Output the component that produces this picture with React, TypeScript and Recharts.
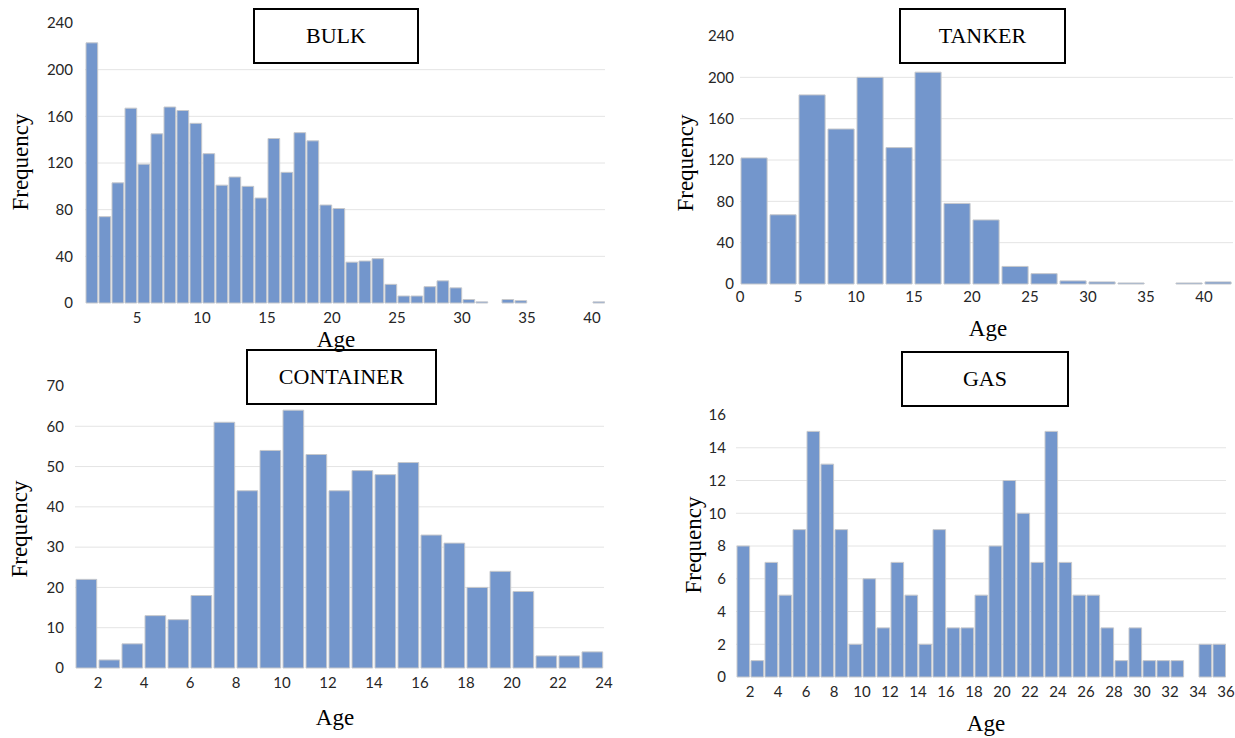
import React from 'react';
import { BarChart, Bar, XAxis, YAxis, CartesianGrid } from 'recharts';

// Bin starts (each bin is one age unit wide, tanker bins are 2.5 wide)
const bulkBins = [1, 2, 3, 4, 5, 6, 7, 8, 9, 10, 11, 12, 13, 14, 15, 16, 17, 18, 19, 20, 21, 22, 23, 24, 25, 26, 27, 28, 29, 30, 31, 32, 33, 34, 35, 36, 37, 38, 39, 40];
const bulkCounts = [223, 74, 103, 167, 119, 145, 168, 165, 154, 128, 101, 108, 100, 90, 141, 112, 146, 139, 84, 81, 35, 36, 38, 16, 6, 6, 14, 19, 13, 3, 1, 0, 3, 2, 0, 0, 0, 0, 0, 1];

const tankerBins = [0, 2.5, 5, 7.5, 10, 12.5, 15, 17.5, 20, 22.5, 25, 27.5, 30, 32.5, 35, 37.5, 40];
const tankerCounts = [122, 67, 183, 150, 200, 132, 205, 78, 62, 17, 10, 3, 2, 1, 0, 1, 2];

const containerBins = [1, 2, 3, 4, 5, 6, 7, 8, 9, 10, 11, 12, 13, 14, 15, 16, 17, 18, 19, 20, 21, 22, 23];
const containerCounts = [22, 2, 6, 13, 12, 18, 61, 44, 54, 64, 53, 44, 49, 48, 51, 33, 31, 20, 24, 19, 3, 3, 4];

const gasBins = [1, 2, 3, 4, 5, 6, 7, 8, 9, 10, 11, 12, 13, 14, 15, 16, 17, 18, 19, 20, 21, 22, 23, 24, 25, 26, 27, 28, 29, 30, 31, 32, 33, 34, 35];
const gasCounts = [8, 1, 7, 5, 9, 15, 13, 9, 2, 6, 3, 7, 5, 2, 9, 3, 3, 5, 8, 12, 10, 7, 15, 7, 5, 5, 3, 1, 3, 1, 1, 1, 0, 2, 2];

// tick labels
const bulkXTicks = [5, 10, 15, 20, 25, 30, 35, 40];
const bulkYTicks = [0, 40, 80, 120, 160, 200, 240];
const tankerXTicks = [0, 5, 10, 15, 20, 25, 30, 35, 40];
const tankerYTicks = [0, 40, 80, 120, 160, 200, 240];
const containerXTicks = [2, 4, 6, 8, 10, 12, 14, 16, 18, 20, 22, 24];
const containerYTicks = [0, 10, 20, 30, 40, 50, 60, 70];
const gasXTicks = [2, 4, 6, 8, 10, 12, 14, 16, 18, 20, 22, 24, 26, 28, 30, 32, 34, 36];
const gasYTicks = [0, 2, 4, 6, 8, 10, 12, 14, 16];

const BAR_FILL = '#7396cc';
const BAR_STROKE = '#c6c8cc';
const TICK_FONT = { fontFamily: 'Lato, sans-serif', fontSize: 15, fill: '#262626' };
const SERIF = '"Liberation Serif", "Times New Roman", serif';

interface Plot { x1: number; x2: number; y1: number; y2: number }

interface HistProps {
  bins: number[];
  counts: number[];
  binWidth: number;
  xDomain: [number, number];
  xTicks: number[];
  yTicks: number[];
  plot: Plot;
  xTickGap: number;
  yTickGap: number;
}

const Histogram: React.FC<HistProps> = ({ bins, counts, binWidth, xDomain, xTicks, yTicks, plot, xTickGap, yTickGap }) => {
  // bars sit on the middle of their bin
  const data = bins.map((b, i) => ({ mid: b + binWidth / 2, count: counts[i] }));
  const yAxisW = 70;
  const top = 12;
  const bottom = 30;
  const right = 16; // room for the last x tick label
  const width = plot.x2 - plot.x1 + yAxisW + right;
  const height = plot.y2 - plot.y1 + top + bottom;
  const barPx = Math.round(((plot.x2 - plot.x1) / (xDomain[1] - xDomain[0])) * binWidth);
  // gridlines everywhere except the baseline and the top tick
  const gridValues = yTicks.slice(1, -1);

  return (
    <div style={{ position: 'absolute', left: plot.x1 - yAxisW, top: plot.y1 - top }}>
      <BarChart
        width={width}
        height={height}
        data={data}
        margin={{ top, right, left: 0, bottom: 0 }}
        barCategoryGap={0}
        barGap={0}
      >
        <CartesianGrid vertical={false} horizontalValues={gridValues} stroke="#e4e4e4" />
        <XAxis
          dataKey="mid"
          type="number"
          domain={xDomain}
          allowDataOverflow
          ticks={xTicks}
          interval={0}
          height={bottom}
          axisLine={false}
          tickLine={false}
          tickSize={0}
          tickMargin={xTickGap}
          tick={TICK_FONT}
        />
        <YAxis
          type="number"
          domain={[yTicks[0], yTicks[yTicks.length - 1]]}
          ticks={yTicks}
          interval={0}
          width={yAxisW}
          axisLine={false}
          tickLine={false}
          tickSize={0}
          tickMargin={yTickGap}
          tick={TICK_FONT}
        />
        <Bar dataKey="count" barSize={barPx} fill={BAR_FILL} stroke={BAR_STROKE} strokeWidth={1} isAnimationActive={false} />
      </BarChart>
    </div>
  );
};

const TitleBox: React.FC<{ text: string; x: number; y: number; w: number; h: number }> = ({ text, x, y, w, h }) => (
  <div
    style={{
      position: 'absolute', left: x, top: y, width: w, height: h, boxSizing: 'border-box',
      border: '2px solid #000', display: 'flex', alignItems: 'center', justifyContent: 'center',
      fontFamily: SERIF, fontSize: 22, color: '#000', background: '#fff',
    }}
  >
    {text}
  </div>
);

const AxisText: React.FC<{ text: string; cx: number; cy: number; rotate?: boolean }> = ({ text, cx, cy, rotate }) => (
  <div
    style={{
      position: 'absolute', left: cx, top: cy, whiteSpace: 'nowrap',
      transform: `translate(-50%, -50%)${rotate ? ' rotate(-90deg)' : ''}`,
      fontFamily: SERIF, fontSize: 23, color: '#000', lineHeight: 1,
    }}
  >
    {text}
  </div>
);

export default function App() {
  return (
    <div style={{ position: 'absolute', left: 0, top: 0, width: 1235, height: 738, background: '#fff', overflow: 'hidden' }}>
      <Histogram
        bins={bulkBins} counts={bulkCounts} binWidth={1} xDomain={[1, 41]} xTicks={bulkXTicks} yTicks={bulkYTicks}
        plot={{ x1: 85, x2: 605, y1: 23, y2: 303 }} xTickGap={9} yTickGap={12}
      />
      <Histogram
        bins={tankerBins} counts={tankerCounts} binWidth={2.5} xDomain={[0, 42.5]} xTicks={tankerXTicks} yTicks={tankerYTicks}
        plot={{ x1: 740, x2: 1233, y1: 36, y2: 284 }} xTickGap={7} yTickGap={6}
      />
      <Histogram
        bins={containerBins} counts={containerCounts} binWidth={1} xDomain={[1, 24]} xTicks={containerXTicks} yTicks={containerYTicks}
        plot={{ x1: 75, x2: 604, y1: 386, y2: 668 }} xTickGap={9} yTickGap={11}
      />
      <Histogram
        bins={gasBins} counts={gasCounts} binWidth={1} xDomain={[1, 36]} xTicks={gasXTicks} yTicks={gasYTicks}
        plot={{ x1: 736, x2: 1226, y1: 415, y2: 677 }} xTickGap={9} yTickGap={10}
      />

      <TitleBox text="BULK" x={253} y={8} w={166} h={56} />
      <TitleBox text="TANKER" x={899} y={8} w={167} h={56} />
      <TitleBox text="CONTAINER" x={246} y={349} w={191} h={56} />
      <TitleBox text="GAS" x={901} y={351} w={168} h={56} />

      <AxisText text="Frequency" cx={20} cy={162} rotate />
      <AxisText text="Frequency" cx={685} cy={163} rotate />
      <AxisText text="Frequency" cx={19} cy={529} rotate />
      <AxisText text="Frequency" cx={693} cy={545} rotate />

      <AxisText text="Age" cx={336} cy={339} />
      <AxisText text="Age" cx={988} cy={328} />
      <AxisText text="Age" cx={335} cy={717} />
      <AxisText text="Age" cx={986} cy={723} />
    </div>
  );
}
